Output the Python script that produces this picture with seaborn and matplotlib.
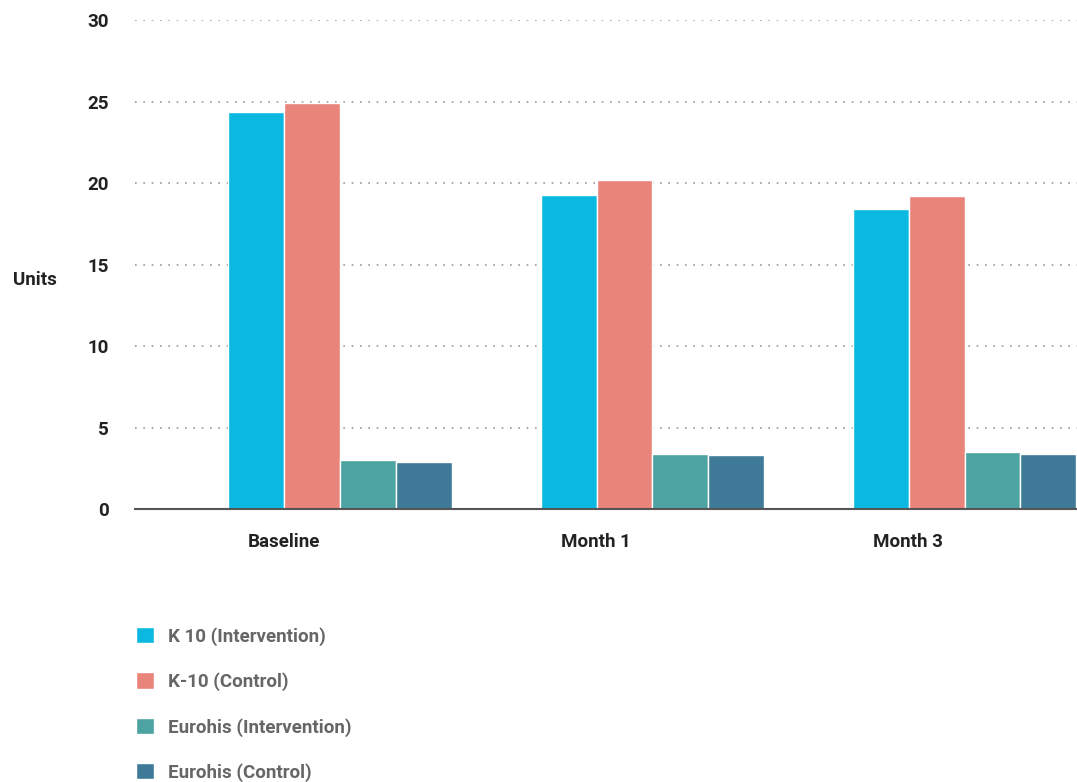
import matplotlib
matplotlib.use('Agg')
import matplotlib.pyplot as plt
import pandas as pd
import seaborn as sns

categories = ['Baseline', 'Month 1', 'Month 3']
series = ['K 10 (Intervention)', 'K-10 (Control)', 'Eurohis (Intervention)', 'Eurohis (Control)']
k10_intervention = [24.4, 19.3, 18.4]
k10_control = [24.9, 20.2, 19.2]
eurohis_intervention = [3.0, 3.4, 3.5]
eurohis_control = [2.9, 3.3, 3.4]
colors = ['#0bb9e0', '#e8847a', '#4da2a2', '#3f7b98']

sns.set_style('white')
plt.rcParams['font.family'] = ['Roboto', 'DejaVu Sans']

rows = []
for name, vals in zip(series, [k10_intervention, k10_control, eurohis_intervention, eurohis_control]):
    for cat, v in zip(categories, vals):
        rows.append({'period': cat, 'group': name, 'value': v})
df = pd.DataFrame(rows)

fig = plt.figure(figsize=(10.77, 7.82), dpi=100)
ax = fig.add_axes([0.1253, 0.349, 0.8747, 0.625])

sns.barplot(data=df, x='period', y='value', hue='group', hue_order=series,
            order=categories, palette=colors, width=0.715, saturation=1,
            ax=ax, zorder=2)
ax.get_legend().remove()

ax.set_ylim(0, 30)
ax.set_xlim(-0.657, 2.36)
ax.set_yticks(range(0, 31, 5))
# category labels sit a bit left of the group centre in the original
ax.set_xticks([i - 0.18 for i in range(len(categories))])
ax.set_xticklabels(categories)
ax.yaxis.grid(True, linestyle=(0, (1, 4)), color='#999999', linewidth=1.2, zorder=0)
ax.xaxis.grid(False)
for s in ['top', 'right', 'left']:
    ax.spines[s].set_visible(False)
ax.spines['bottom'].set_color('#555555')
ax.spines['bottom'].set_linewidth(1.5)
ax.spines['bottom'].set_zorder(3)
ax.tick_params(axis='both', length=0, labelsize=13.5, colors='#222222')
ax.tick_params(axis='y', pad=19)
ax.tick_params(axis='x', pad=17)
for t in ax.get_xticklabels() + ax.get_yticklabels():
    t.set_fontweight('bold')
ax.set_xlabel('')
ax.set_ylabel('Units', rotation=0, fontsize=13.5, fontweight='bold', color='#222222',
              ha='center', va='center')
ax.yaxis.set_label_coords(-0.106, 0.468)

handles, labels = ax.get_legend_handles_labels()
leg = fig.legend(handles, labels, loc='upper left', bbox_to_anchor=(0.111, 0.22),
                 frameon=False, ncol=1, fontsize=13.5, labelspacing=1.42,
                 handlelength=0.95, handleheight=0.95, handletextpad=0.75)
for t in leg.get_texts():
    t.set_color('#666666')
    t.set_fontweight('bold')

fig.savefig('out.png', dpi=100)
